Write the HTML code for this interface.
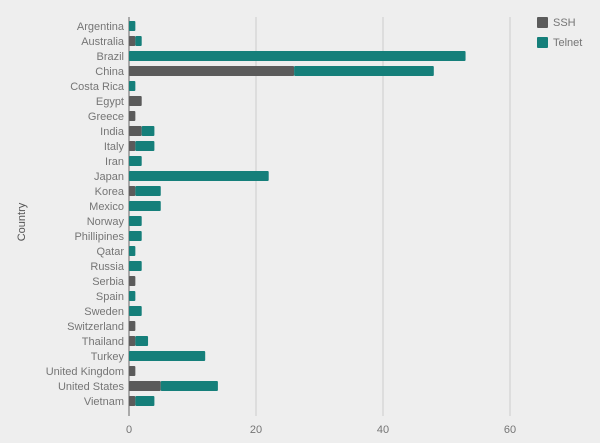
<!DOCTYPE html>
<html><head><meta charset="utf-8"><style>
html,body{margin:0;padding:0;background:#eeeeee;}
svg{display:block;font-family:"Liberation Sans",sans-serif;}
</style></head><body>
<svg width="600" height="443" viewBox="0 0 600 443">
<rect width="600" height="443" fill="#eeeeee"/>
<g stroke="#cccccc" stroke-width="1">
<line x1="256" y1="17" x2="256" y2="416"/>
<line x1="383" y1="17" x2="383" y2="416"/>
<line x1="510" y1="17" x2="510" y2="416"/>
</g>
<line x1="129" y1="17" x2="129" y2="416" stroke="#666" stroke-width="1"/>
<g id="bars"></g>
<g font-size="11" fill="#757575" text-anchor="middle">
<text x="129" y="433">0</text><text x="256" y="433">20</text><text x="383" y="433">40</text><text x="510" y="433">60</text>
</g>
<text transform="translate(25,222) rotate(-90)" font-size="11" fill="#555" text-anchor="middle">Country</text>
<rect x="537" y="17" width="11" height="11" rx="1" fill="#5b5b5b"/>
<text x="553" y="26" font-size="11" fill="#757575">SSH</text>
<rect x="537" y="37" width="11" height="11" rx="1" fill="#157f7a"/>
<text x="553" y="46" font-size="11" fill="#757575">Telnet</text>
<g id="labels" font-size="11" fill="#757575" text-anchor="end"></g>
</svg>
<script>
var d=[["Argentina",0,1],["Australia",1,1],["Brazil",0,53],["China",26,22],["Costa Rica",0,1],["Egypt",2,0],["Greece",1,0],["India",2,2],["Italy",1,3],["Iran",0,2],["Japan",0,22],["Korea",1,4],["Mexico",0,5],["Norway",0,2],["Phillipines",0,2],["Qatar",0,1],["Russia",0,2],["Serbia",1,0],["Spain",0,1],["Sweden",0,2],["Switzerland",1,0],["Thailand",1,2],["Turkey",0,12],["United Kingdom",1,0],["United States",5,9],["Vietnam",1,3]];
var ns="http://www.w3.org/2000/svg",b=document.getElementById("bars"),l=document.getElementById("labels"),k=6.35;
d.forEach(function(r,i){var y=26+i*15;
function rect(x,w,c){var e=document.createElementNS(ns,"rect");e.setAttribute("x",x);e.setAttribute("y",y-5);e.setAttribute("width",w);e.setAttribute("height",10);e.setAttribute("rx",1);e.setAttribute("fill",c);b.appendChild(e);}
if(r[1])rect(129,r[1]*k,"#5b5b5b");
if(r[2])rect(129+r[1]*k,r[2]*k,"#157f7a");
var t=document.createElementNS(ns,"text");t.setAttribute("x",124);t.setAttribute("y",y+4);t.textContent=r[0];l.appendChild(t);});
</script>
</body></html>
